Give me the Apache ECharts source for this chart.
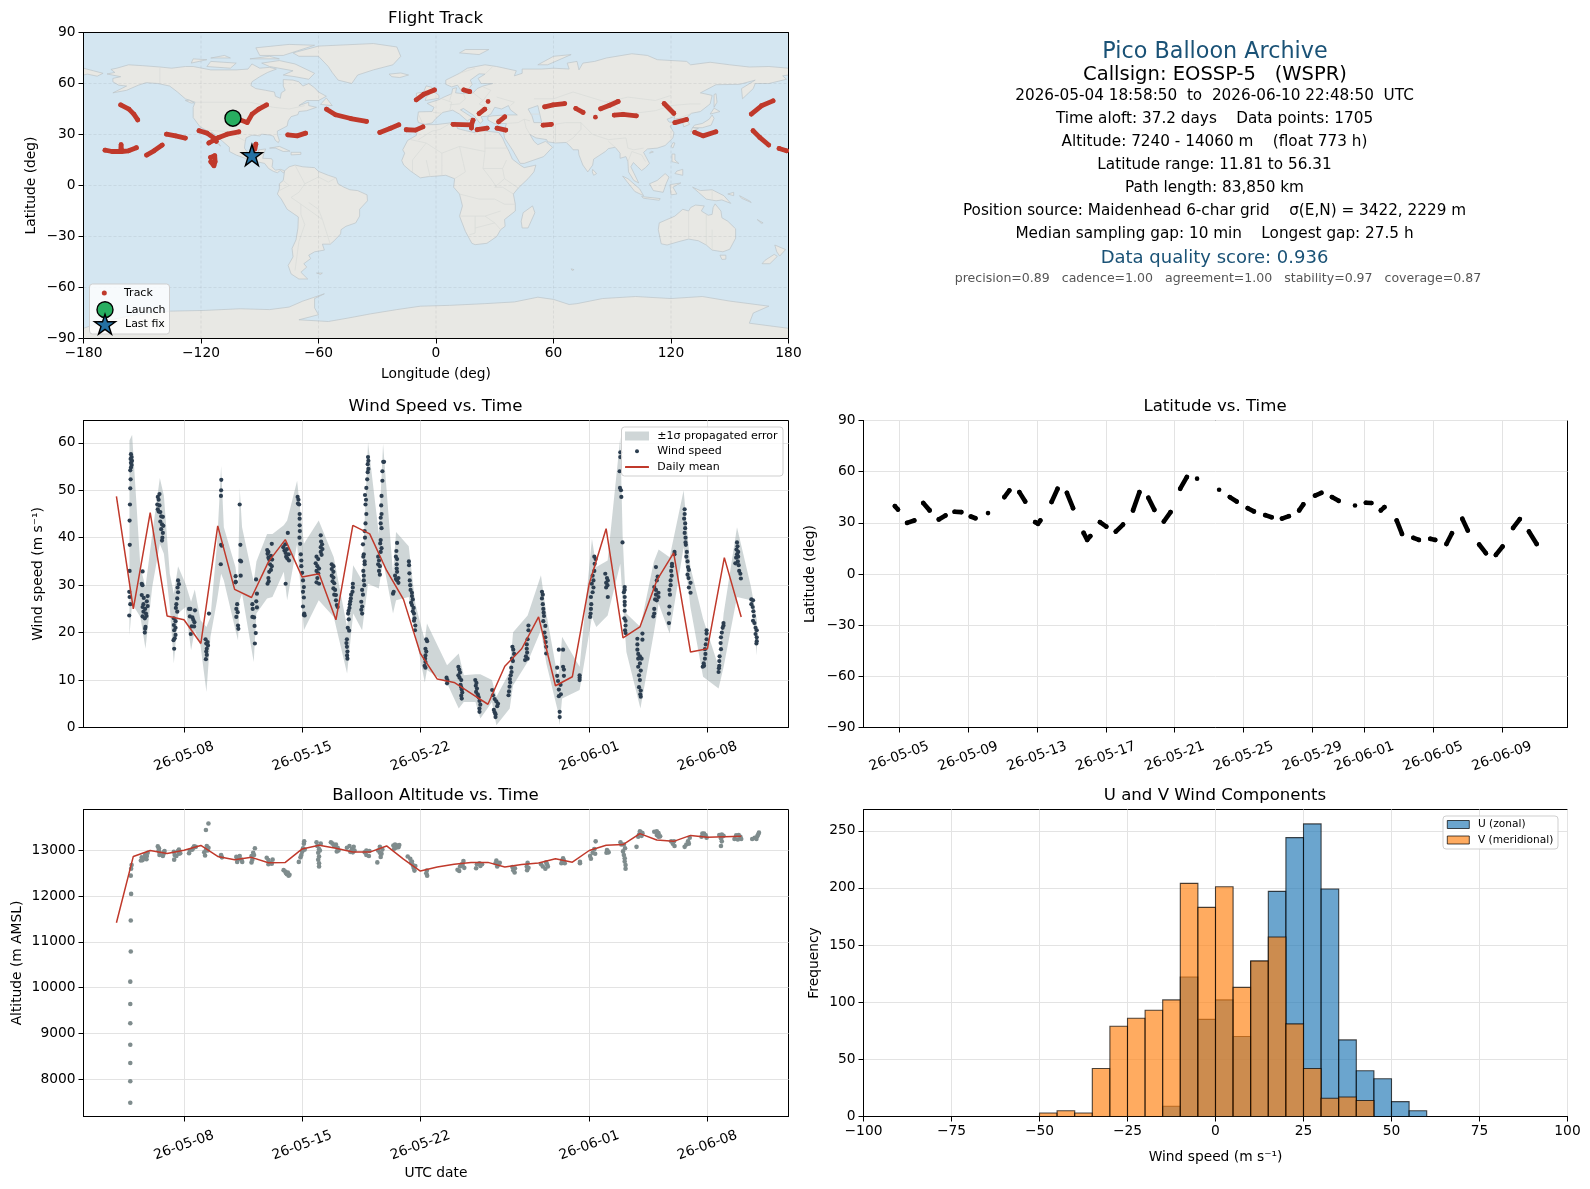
<!DOCTYPE html>
<html><head><meta charset="utf-8"><style>html,body{margin:0;padding:0;background:#fff}#c{width:1590px;height:1189px}</style>
<script src="https://cdn.jsdelivr.net/npm/echarts@6/dist/echarts.min.js"></script></head><body><div id="c"></div>
<script>
const infoLines = [
 ['Pico Balloon Archive',22.3,'#1a5276',52.5,1215],['Callsign: EOSSP-5   (WSPR)',19.55,'#000',75,1215],
 ['2026-05-04 18:58:50  to  2026-06-10 22:48:50  UTC',15.25,'#000',96,1214.5],
 ['Time aloft: 37.2 days    Data points: 1705',15.25,'#000',119,1214.5],
 ['Altitude: 7240 - 14060 m    (float 773 h)',15.25,'#000',142,1214.5],
 ['Latitude range: 11.81 to 56.31',15.25,'#000',165,1214.5],
 ['Path length: 83,850 km',15.25,'#000',188,1214.5],
 ['Position source: Maidenhead 6-char grid    σ(E,N) = 3422, 2229 m',15.25,'#000',211,1214.5],
 ['Median sampling gap: 10 min    Longest gap: 27.5 h',15.25,'#000',234,1214.5],
 ['Data quality score: 0.936',18,'#1a5276',258,1214.5],
 ['precision=0.89   cadence=1.00   agreement=1.00   stability=0.97   coverage=0.87',12.55,'#555',278.5,1218]
];
const landPolygons = [
 [[-168,65.6],[-164,66.5],[-166,68.3],[-163,69],[-157,71],[-150,70.5],[-141,69.7],[-135,69],[-128,70],[-124,70],[-115,68],[-108,68],[-102,68],[-96,68.5],[-94,71.5],[-90,69],[-85,69.5],[-81.5,68.5],[-86,66.5],[-90,64],[-94,61],[-94.5,58.8],[-92,57],[-87,56],[-82.5,55],[-82,52.5],[-79.5,51.3],[-79,54.5],[-77,56],[-78,58.5],[-78,62.3],[-73,62],[-70,61],[-68,58.5],[-65,60],[-62,57.5],[-60,55],[-56,52.5],[-60,50],[-66,50],[-70,47],[-65,49],[-65,47],[-61,46],[-66,44],[-70,43.5],[-70.5,41.7],[-74,40.5],[-75.5,38],[-76,35],[-78,33.8],[-81,32],[-81,30],[-80,26.5],[-80.5,25.2],[-82,26.5],[-83,29],[-85,29.7],[-89,30.2],[-90,29.2],[-94,29.6],[-97,28],[-97.5,25],[-97.8,22],[-96,19],[-94,18.2],[-91,18.6],[-90.5,21],[-87,21.5],[-88,18.5],[-88.5,16],[-84,15.8],[-83.3,14.5],[-83.7,11],[-82,9],[-79.5,9.5],[-77.3,8.7],[-77.8,7.3],[-79.5,8.9],[-81,7.5],[-83,8.3],[-85.5,10],[-87.5,13],[-91.5,14],[-94.5,16.2],[-97,15.8],[-102,17.9],[-105.5,20],[-105.5,22.5],[-109,26],[-112.5,29.5],[-114.7,31.5],[-113,28],[-110,23.2],[-112,25],[-115,28.5],[-117.3,32.5],[-120.5,34.5],[-124,40],[-124,46],[-123,49],[-128,51],[-132,55],[-136,58.5],[-142,60],[-148,60.5],[-152,59],[-158,56],[-165,54.5],[-158,58.5],[-162,59],[-165,61],[-165,63],[-161,64]],
 [[-80,73.5],[-72,71.5],[-62,66],[-65,62.5],[-72,64],[-78,65],[-73,67.5],[-85,70],[-89,72]],
 [[-117,70],[-105,69],[-102,72],[-115,73]],
 [[-90,76.5],[-78,76.5],[-62,82.5],[-75,83],[-92,81]],
 [[-125,72],[-117,74],[-124,74.5]],
 [[-95,74.5],[-80,74.5],[-85,76]],
 [[-115,75],[-105,75],[-108,76.5]],
 [[-59,47.7],[-53,47],[-56,51.5]],
 [[-85,22],[-80,23],[-74.5,20.2],[-78,20],[-82,22]],
 [[-74,19.5],[-69,19.5],[-69,18.3],[-74,18]],
 [[-128,50],[-125,48.5],[-123.5,48.6],[-126,50.2]],
 [[-73,78],[-60,82],[-32,83.5],[-20,81.5],[-18,76],[-22,71],[-32,68],[-40,65],[-43,60],[-50,62],[-53,66.5],[-55,70],[-60,76],[-70,76]],
 [[-24,65.5],[-18,66.2],[-14,65],[-18.5,63.5],[-22.5,64]],
 [[-77.3,8.7],[-75,11],[-72,12],[-68,11],[-62,10.5],[-60,8.3],[-55,6],[-51,4.5],[-50,1],[-47,-1],[-44,-2.5],[-40,-3],[-35.2,-5.5],[-35,-9],[-39,-14],[-39,-18],[-41,-22],[-46,-24],[-48.5,-26],[-48.7,-28.5],[-52,-32.5],[-54,-34.5],[-58,-34.5],[-57,-38],[-62,-39],[-65,-41],[-64,-43],[-67.5,-46],[-66,-48],[-69,-51],[-65.5,-55],[-70,-55],[-74,-52],[-75.5,-47],[-73,-42],[-73.5,-37],[-71.5,-32],[-70.5,-25],[-70.3,-18.5],[-76,-14],[-79,-8],[-81,-5],[-80,-2],[-80,1],[-78,3],[-77.5,7]],
 [[-6,35.8],[0,35.8],[10,37.2],[11,33.5],[15,32.3],[20,31],[20,33],[25,32],[32,31.2],[34,28],[35.5,24],[37.3,20],[39,15.5],[43,12],[45,10.5],[51,12],[50,8],[47,4],[42,-1.5],[39.5,-5],[40.5,-11],[40.5,-15],[35,-20],[35.3,-24],[33,-26],[31,-30],[26,-34],[20,-34.8],[18.3,-34],[15,-27],[12,-18],[13.5,-12],[12,-5],[9,-1],[9.5,4],[5,6],[0,5.5],[-4,5.2],[-8,4.5],[-13,8.5],[-16.5,12],[-17.5,14.7],[-16,19],[-17,21],[-14.5,26.5],[-10,29.5],[-9.5,33]],
 [[49.3,-12],[50.5,-16],[47,-25],[44,-25],[43.5,-21],[44.5,-16]],
 [[-9,37],[-9.5,39],[-9,43.3],[-2,43.5],[-1,46],[-4.5,48.3],[1.5,50.5],[4,52],[8,54],[8.5,57],[10.5,57.5],[10,54.5],[14,54],[19,54.5],[21,57],[24,58.5],[29,60],[23,60],[21.5,63],[25,65.5],[22,65.7],[17.5,62],[18.5,59.5],[16.5,56.5],[13,55.5],[11,59],[8,58],[5,59.5],[5,62],[12,66],[16,69],[25,71],[31,70],[41,67.5],[40,64.5],[44,66],[44,68.5],[54,68.5],[60,69],[68,68.5],[67,72],[72,73],[73,68],[75,72],[81,73],[87,75],[100,77.5],[108,76.5],[113,74],[128,73],[130,71],[140,72.5],[150,71],[160,69.7],[170,70],[180,69],[180,65],[177,64.5],[179,62.5],[170,60],[163,60],[162,57],[156.5,51],[156,57],[163,62],[155,59.5],[143,59.3],[135,54.5],[141,53],[140,48],[135,43.5],[130.5,42.5],[127.5,39.5],[129.5,36],[126.5,34.5],[126,37],[125,39.7],[121.5,39],[122,40.7],[118,39],[119,37.3],[122.5,37],[119.5,35],[121.5,31],[121,28],[117,23.5],[113,22],[108,21.5],[106,19.5],[109,13],[107,10.5],[105,8.8],[103,11],[100.8,13.5],[99.5,11],[103.5,1.5],[101,3],[98.3,8],[98,14],[97,17],[94,16],[94,19],[91.5,22.5],[88,21.7],[86.5,20],[80.5,15.5],[80,12],[77.5,8],[75,12],[73,18],[72.7,21],[70,21],[69,22.5],[66.5,25.3],[61,25],[57,25.7],[56.5,27],[51,28],[48,30],[50,26],[52,24],[56,26],[59.5,22.5],[55,17],[45,13],[43,13],[39,21],[35,28],[34.5,31.5],[36,36.5],[30,36.3],[26.5,38.5],[26.5,40.5],[29,41],[36,41.5],[41.5,41.5],[38,44.5],[37,47],[33.5,45],[30,46],[28,42],[26,40.7],[23,40.5],[24,38],[22.5,36.5],[19.5,41],[14,45.3],[12.5,44.5],[18.5,40],[16,38],[12,42],[8.5,44.3],[3.5,43],[0,39.5],[-2,36.8],[-5.5,36]],
 [[-5.5,50],[1.5,51.3],[1.5,53],[-2,56],[-2,57.7],[-5,58.6],[-6,56],[-3,54],[-5,52]],
 [[-10,52],[-6,52.2],[-6,55],[-10,54.3]],
 [[52,71],[57,71],[69,77],[60,76]],[[12,78],[22,77],[27,80],[15,80]],
 [[142,46],[143.5,49],[143,54],[142,53.5],[142,48]],[[140,42],[145,43.5],[142,45.5]],
 [[131,34],[136,34],[140.5,35.5],[142,39.5],[141,41.5],[139.5,39],[136,36.5],[132,35.5]],
 [[130,31.5],[134,33.5],[131,34]],[[120,23],[121,22],[122,25],[121,25.2]],[[109,19],[111,19.7],[110,20.2]],
 [[120.5,18.5],[122,18.5],[122,15],[124,13],[120.5,14]],[[122,7],[126,6],[126,9.5],[123,8.5]],
 [[109,1],[113,3],[117,7],[119,5],[117.5,1],[116,-4],[111,-3]],[[95.3,5.5],[98,4],[104,-2],[106,-6],[101.5,-3.5]],
 [[105,-6.5],[114.5,-7.7],[114,-8.7],[106,-7.5]],[[119.5,0.5],[125,1.5],[121,-1],[123,-5],[120,-5.5]],
 [[131,-1],[135,-3],[141,-2.5],[147,-6],[150.5,-10.5],[146,-8.5],[143,-9],[138,-8],[134,-4]],
 [[80,9.5],[82,7],[80.5,6],[79.8,8]],
 [[114,-22],[113.5,-26],[115,-34.3],[118,-35],[124,-33],[129,-31.5],[134,-32.5],[138,-35],[141,-38],[146.5,-39],[150,-37.5],[153,-31],[153,-25.5],[149,-21],[146,-19],[145.5,-15],[142.5,-10.8],[141.5,-13],[141,-17],[139,-17.5],[135.5,-15],[137,-12],[132.5,-11.5],[130,-13],[129,-15],[126,-14],[122,-18],[117,-20.5]],
 [[145,-41],[148,-41],[148,-43.3],[146,-43.5]],[[173,-35],[178.5,-37.7],[175.5,-41.5],[174,-39]],[[172.7,-40.5],[174.3,-41.7],[170.5,-46],[166.5,-46],[168,-44]],
 [[164,-20],[167,-22],[166,-22.2]],[[155,-6],[160,-9],[161,-10],[156,-7.5]],[[149,-5],[152,-4],[152,-6]],[[69,-49],[70.5,-49.5],[69.5,-50]],[[-61,-51.5],[-58,-51.5],[-59,-52.3]],
 [[-180,65],[-180,69],[-175,67.5],[-170,66],[-173,64.3],[-178,65.5]],
 [[-180,-84],[-170,-80],[-158,-77],[-145,-75],[-135.6,-73.9],[-118.5,-73.5],[-100,-72.5],[-85,-73],[-75,-71.5],[-68,-68],[-57,-63.7],[-62,-66.5],[-62,-72],[-60,-76],[-70,-79],[-55,-80],[-45,-78],[-33.4,-75.5],[-20,-73],[-8,-71],[7,-70.5],[25,-69.5],[40,-68.5],[52,-65.7],[60,-67],[68,-70],[72,-69.5],[85,-66.5],[102,-65.3],[120,-66.5],[136,-65.3],[150,-68],[170,-71],[162,-75],[160,-81],[180,-84],[180,-90],[-180,-90]]
];
const seaPolygons = [[[47,45],[52,47],[53,42],[54,37],[50,37],[49,41]]];
const borderLines = [
 [[-123,49],[-95,49],[-83,46],[-75,45],[-67,47]],[[-141,69.7],[-141,60]],[[-117,32.5],[-106,31.7],[-97.3,26]],[[-92,14.5],[-91,18]],
 [[-72,12],[-67,1],[-70,-4],[-74,-7],[-69,-11],[-69,-17],[-67,-23],[-70,-33],[-72,-50]],[[-60,8.3],[-60,5],[-67,1]],[[-58,-20],[-69,-11]],[[-54,-34.5],[-58,-20],[-60,-14],[-65,-10]],[[-80,-3],[-75,0],[-78,3]],[[-51,4.5],[-55,2],[-60,5]],
 [[-9,42],[-7,37]],[[-1.5,43],[3,42.5]],[[3,51],[8,49],[7,44]],[[8,54],[7,50]],[[14,54],[15,51],[12,48],[7,47.5]],[[19,54.5],[24,50],[22,48],[28,45]],[[24,58],[28,56],[24,50]],[[31,52],[40,49],[38,47]],[[12,66],[20,69]],[[25,65.5],[29,70]],
 [[36,36.5],[42,37],[45,39],[48,38]],[[48,30],[46,34],[45,39]],[[61,25],[61,36],[66,37],[74,37]],[[48,42],[53,42]],[[50,51],[60,51],[70,55],[87,49]],[[87,49],[98,42],[112,44],[120,47],[130,48],[135,48]],[[87,49],[98,52],[112,50],[120,53]],[[74,37],[80,30],[88,27],[97,28],[98,22],[101,21],[106,22]],[[66.5,25.3],[70,28],[74,33],[74,37]],[[88,26],[92,22]],[[98,14],[100,20],[105,18],[107,14]],[[125,40],[130.5,42.5]],
 [[-9,27],[-2,32],[2,33],[8,37]],[[-13,27],[-5,25],[3,19],[12,23],[25,20]],[[25,32],[25,20],[24,10],[28,4],[31,-1]],[[25,22],[37,22]],[[12,23],[14,13],[15,8],[9.5,4]],[[3,19],[3,12],[3,6]],[[-5,25],[-12,15],[-12,8]],[[-5,15],[-3,5]],[[24,10],[34,10],[36,15]],[[34,10],[35,4],[42,-1.5]],[[35,4],[30,-1],[34,-1],[39.5,-5]],[[12,-5],[22,-8],[30,-8],[35,-11],[40.5,-11]],[[12,-18],[25,-18],[33,-15]],[[20,-18],[20,-28],[17,-29]],[[25,-18],[30,-22],[33,-26]],[[30,-22],[20,-25]],
 [[141,-2.5],[141,-9]],[[129,-15],[129,-31.5]],[[138,-17],[138,-35]],[[141,-26],[141,-38]]
];
const trackSegments = [
 [[-161,47.4],[-156.8,44.9],[-154.3,42],[-152.3,38.6]],
 [[-169,20.8],[-165.4,20],[-161,20],[-160.8,24],[-160.6,20],[-157,20.4],[-153,22.2]],
 [[-147.8,17.9],[-144,20.4],[-139.8,23.8]],
 [[-137.6,30.2],[-133,29.2],[-128,27.9]],
 [[-121,32.2],[-116.9,30.8],[-113.4,27.9],[-112.2,26]],
 [[-116,25],[-110.9,28.3],[-106.6,30.2],[-100.7,31.6]],
 [[-115.1,16.5],[-113,17.5],[-112.8,14],[-113.4,11.6],[-115,14]],
 [[-103.7,39.6],[-100,38.6],[-96.4,37],[-93.9,42],[-90.5,44.9],[-86.5,47.4]],
 [[-92,24.3],[-92.5,21.4]],
 [[-75.7,29.8],[-70.9,29.2],[-66.6,30.8]],
 [[-55.9,44.9],[-51.3,41.6],[-43.6,39.4],[-35.5,37.7]],
 [[-28.7,31.2],[-23.2,33.7],[-19,35.7]],
 [[-15.2,32.8],[-10.5,32.6],[-6.7,34.5]],
 [[-10.1,50.4],[-6.2,53.7],[-0.8,56.2]],
 [[14.2,56.2],[17.2,55.2]],
 [[26.6,49.4]],
 [[22,42.3],[24.9,44.9]],
 [[8.7,36],[18.1,35.7],[18.9,38.4]],[[18.1,35.7],[18.1,33.8]],
 [[21,32.8],[26.1,33.7]],
 [[31.2,33.7],[35.6,32.6]],
 [[32,37.5],[35.1,40.4]],
 [[55.5,46.3],[59.8,47.4],[65.7,48.2]],
 [[54.7,35.5],[58.9,36]],
 [[71.4,45.3],[75.1,43]],
 [[81.4,40.2]],
 [[84.1,45.1],[88.7,47.2],[93,49.4]],
 [[91,41.4],[95.5,41.8],[102.3,41]],
 [[116.5,48.2],[121.4,42.5]],
 [[122,37],[127.9,38.8]],
 [[132.1,31.2],[136.4,29.2],[142.9,31.6]],
 [[161,42],[166.2,46.9],[172.1,49.8]],
 [[161.9,32.2],[165.3,28.3],[169.9,23.8]],
 [[175.2,21.8],[179,20.4]]
];
const launchPoint = [[-103.7,39.6]];
const lastFixPoint = [[-94,17.9]];
const latitudeSegments = [
 [[4.75,39.8],[4.93,37.8]],[[5.46,30],[5.88,31.4]],[[6.4,41.6],[6.77,37.3]],[[7.3,32],[7.69,34.3]],[[8.22,36.5],[8.61,36.3]],[[9.16,33.7],[9.43,32.7]],[[10.16,35.7]],[[11.11,45.1],[11.4,49]],[[11.98,48],[12.32,42.5]],[[12.9,30.4],[13.06,29.4],[13.2,31.4]],[[13.85,42.2],[14.2,50]],[[14.74,47.6],[15.1,38.6]],[[15.71,24.1],[15.92,20],[16.1,22.2]],[[16.66,30.4],[17.03,27.8]],[[17.58,24.9],[18,29]],[[18.58,37.3],[18.95,48]],[[19.47,44.7],[19.82,37.6]],[[20.37,30.8],[20.76,36.3]],[[21.32,50],[21.71,56.9]],[[22.3,55.9]],[[23.58,49.4]],[[24.2,45.1],[24.6,42.5]],[[25.24,38.6],[25.6,36.7]],[[26.26,34.5],[26.63,33.3]],[[27.23,32.5],[27.63,33.9]],[[28.23,37.3],[28.47,40.8]],[[29.15,46],[29.52,47.6]],[[30.13,45.1],[30.52,42.9]],[[31.47,40.2]],[[32.1,41.8],[32.42,41.6]],[[32.97,37.3],[33.18,39.2]],[[33.89,31.4],[34.2,23.5]],[[34.86,21.2],[35.18,20]],[[35.84,20.6],[36.13,20]],[[36.78,17.6],[37.1,23.9]],[[37.7,32.4],[38.02,25.5]],[[38.68,17.3],[39.07,12.2]],[[39.65,11.2],[40.04,16.1]],[[40.65,27],[41.04,32.2]],[[41.57,24.9],[42.02,17.6]]
];
const windDailyDays = [4,5,6,7,8,9,10,11,12,13,14,15,16,17,18,19,20,21,22,23,24,25,26,27,28,29,30,31,32,33,34,35,36,37,38,39,40,41];
const windDailyMean = [48.7,25,45.3,23.5,22.7,17.7,42.5,29.1,27.4,34.9,39.6,31.7,32.4,22.7,42.6,40.8,33.1,27,15.6,10.2,9.5,7.2,4.9,12.9,16.6,23.3,8.8,10.7,30.3,41.9,18.9,21.2,31,36.8,15.9,16.6,35.8,23.3];
const altDailyMean = [11420,12870,13000,12935,13005,13110,12870,12800,12850,12730,12740,13035,13115,13050,12965,12965,13100,12810,12550,12640,12700,12740,12740,12640,12695,12725,12820,12745,13000,13115,13130,13370,13230,13200,13330,13290,13300,13310];
const bandDays = [4.77,4.93,5.42,5.72,6.12,6.57,6.81,7.16,7.4,7.65,8.09,8.42,8.64,8.98,9.33,9.57,9.96,10.2,10.36,11.05,11.2,11.3,11.44,12.13,12.29,12.92,13.24,13.91,14.11,14.7,15.1,15.98,16.87,17.66,18.02,18.55,18.9,19.54,19.79,20.38,20.56,21.31,21.7,22.26,22.39,23.58,24.27,24.57,25.26,25.55,26.24,26.5,27.29,27.49,28.35,29.14,29.46,30.13,30.25,30.39,31.43,32.16,32.42,33.09,33.84,33.98,34.2,35.03,35.82,36.11,36.76,37.59,37.99,38.74,39.66,39.96,40.75,41.58,41.93];
const bandHigh = [60.5,61.7,33.8,29.6,40.8,52.6,48.9,32.4,28.2,34,30.3,26.5,29.1,22.6,21.2,23.3,38.7,55.1,42.2,33.8,29.6,50.5,42.2,30.7,35,40.8,40.8,42.6,43.6,52,38.7,43.6,35.9,21.2,34.2,31,60.1,40.8,59.8,32.4,41.2,38.2,26.1,18.4,21.9,13.1,15.6,11,11.2,11.2,10,6.5,11.7,20.1,23.6,32.1,24,10.7,12.8,19.1,12.8,39.8,33.8,35.2,61.2,40.1,24,21.2,34.9,37.5,35.9,50,33.8,22.9,12.8,24,42.2,29.6,22.6];
const bandLow = [19.4,26.1,23.3,16.6,29.6,38.7,36.6,25.4,13.5,24,25.4,16.3,20.5,17.3,7.5,19.1,26.8,32.4,31,20.5,18.4,26.8,28.2,13.8,24,27.2,27.5,32.8,26.8,38.7,20.5,26.8,23.3,11.4,24,20.5,30.3,29.3,35.2,24,26.8,27.5,19.8,9.5,12.1,9.3,4,5.4,5.4,1.9,5.4,0.5,4,8.9,13.8,20.5,13.5,3.6,0.5,6.1,7.9,23.3,21.2,23.6,34.5,26.8,15.9,4,19.8,26.1,19.8,38,25.4,10.7,8.2,12.8,27.5,26.8,15.2];
const windPoints = [
 [4.86,57.6],[4.9,57],[4.84,56.6],[4.92,56.2],[4.86,55.8],[4.9,55.3],[4.86,54.8],[4.82,54.2],[4.84,52.3],[4.82,50.4],[4.8,47],[4.78,43.6],[4.79,38.5],[4.78,33],[4.76,28.6],[4.78,27.5],[4.82,26],[4.76,23.6],
 [5.55,32.9],[5.5,30.3],[5.54,30],[5.5,27.9],[5.62,27.3],[5.85,27.7],[5.6,26],[5.8,26.6],[5.55,25.4],[5.7,25],[5.85,25.6],[5.6,24.4],[5.75,24],[5.55,23.4],[5.68,23],[5.78,23.5],[5.7,20.8],[5.68,20],[5.72,21.2],
 [6.45,48.6],[6.55,49.2],[6.5,48],[6.42,47],[6.55,46.8],[6.5,45.5],[6.45,46],[6.6,45.4],[6.65,44.5],[6.75,44.4],[6.6,43.4],[6.7,42.8],[6.78,42.5],[6.65,41.8],[6.75,41],[6.72,40],[6.7,39.4],
 [7.65,31],[7.7,30.2],[7.62,29.5],[7.65,28.5],[7.6,27.2],[7.55,26],[7.52,25.2],[7.6,24.4],[7.4,23],[7.5,22.4],[7.4,21.6],[7.5,21],[7.42,20.5],[7.5,19.5],[7.45,18.8],[7.38,18.4],[7.42,16.6],
 [8.3,25],[8.38,25],[8.35,23.4],[8.5,23.2],[8.65,24.7],[8.55,22.7],[8.62,22.2],[8.45,21.3],[8.6,21.3],[8.4,19.7],
 [9.28,18.6],[9.4,18],[9.32,17.7],[9.42,17.3],[9.35,16.6],[9.32,16],[9.35,15.3],[9.3,14.4],[9.48,24],
 [10.21,52.2],[10.2,50],[10.19,48.8],[10.2,38.5],[10.24,38.3],[10.18,34.4],
 [11.06,31.9],[11.07,30.7],[11.05,30.6],[11.15,26],[11.1,25],[11.18,24.3],[11.1,23.3],[11.2,21.5],[11.22,20.8],[11.3,47],[11.34,38.5],[11.32,35.2],[11.38,35],[11.36,32],
 [12.05,26],[12.07,25],[12.05,23.3],[12.15,23.2],[12.18,21.4],[12.25,19.9],[12.2,17.7],[12.27,31.2],[12.32,28.2],[12.28,26.6],[12.32,25.3],
 [12.93,37.4],[13,37],[12.95,36.6],[13,35.8],[13.05,35.4],[13.2,38.7],[13.15,36.2],[13.22,35.4],[13.1,34.4],[13.2,34],[13.15,33.2],[13.05,32.8],[13,31.5],[13.02,30.8],[12.95,30.3],
 [13.88,38],[13.95,37.3],[14.02,36.8],[14.1,37.6],[14.05,36],[14.2,36.5],[14.12,35.6],[14.22,35.2],[14.15,41],[14.02,30.3],[14,38.6],
 [14.73,48.6],[14.78,48],[14.75,47.2],[14.82,47],[14.85,45],[14.85,44],[14.85,42.6],[14.86,41.4],[14.84,40],[14.88,38.7],[14.92,36.5],[14.95,35.2],[14.95,34],[15,32.6],[15.05,31],[15.1,29.6],[15.05,28.6],[15.1,27.4],[15.05,25.5],[15.12,24],[15.1,23.7],[15.15,23.6],
 [15.85,36],[15.95,35.5],[15.8,34.6],[15.9,34],[16,33.5],[15.85,33],[15.95,32.5],[15.9,31.5],[15.85,30.6],[16,30.3],[16.1,40.5],[16.12,39.2],[16.18,38.6],[16.1,38],[16.2,37.6],[16.1,37],[16.15,36.4],
 [16.75,34.4],[16.85,34],[16.75,33.4],[16.85,32.8],[16.75,32],[16.85,31.6],[16.8,30.8],[16.9,30.4],[16.85,29.3],[16.95,29],[16.9,28],[17,27.9],[17,26.8],[17.05,25.8],[17.1,25.4],
 [18,30.3],[18,29.5],[17.98,28.6],[17.9,28],[17.88,27.2],[17.85,26.6],[17.82,26],[17.8,25.2],[17.75,24.6],[17.72,24],[17.76,22.8],[17.7,21],[17.78,20.4],[17.65,18.6],[17.62,17.8],[17.65,17],[17.68,16],[17.66,15.2],[17.68,14.5],
 [18.55,29],[18.6,28],[18.5,26.5],[18.55,25.5],[18.5,24.8],[18.55,24],[18.62,33],[18.65,32],[18.65,31],[18.68,30],[18.6,38.6],[18.65,36.5],[18.62,36],[18.7,35],[18.7,34.4],[18.72,40],[18.7,41.4],[18.75,43],[18.8,45],[18.75,47],[18.78,48],[18.72,49],[18.8,50.5],[18.85,52.3],[18.88,53.8],[18.92,54.5],[18.88,55.5],[18.92,56.2],[18.9,57],
 [19.5,36],[19.55,35.2],[19.5,34.4],[19.6,34],[19.55,33],[19.6,32.2],[19.65,37],[19.7,37.8],[19.62,38.8],[19.65,39.5],[19.7,42],[19.65,43],[19.65,44.2],[19.7,45],[19.68,46.8],[19.7,48.8],[19.75,52],[19.75,54],[19.8,56],[19.85,56],
 [20.38,28.2],[20.42,28.6],[20.5,32],[20.55,31.3],[20.6,33.5],[20.62,32.8],[20.7,31.5],[20.62,31],[20.7,30.5],[20.55,36],[20.62,35.5],[20.6,34.4],[20.58,37.2],[20.62,38.9],
 [21.32,35],[21.33,34.2],[21.35,32.5],[21.37,31],[21.4,30],[21.42,29],[21.5,28.4],[21.5,27.7],[21.55,27],[21.45,26.3],[21.5,25.8],[21.6,25.2],[21.55,24.5],[21.62,24],[21.65,23],[21.62,22.5],[21.7,21.5],[21.68,20.5],
 [22.35,18.6],[22.4,18.2],[22.3,16.6],[22.35,16],[22.3,15.2],[22.28,14.5],[22.3,13.8],[22.25,13],[22.3,12.6],
 [23.55,10.5],[23.6,10],[23.58,9.3],
 [24.25,12.8],[24.3,12.2],[24.35,11.6],[24.25,11],[24.32,10.5],[24.42,10],[24.38,9],[24.42,8.5],[24.45,8],[24.48,7.4],[24.42,6.7],[24.45,6.1],
 [25.25,10],[25.32,9.4],[25.28,8.8],[25.35,8.2],[25.3,7.5],[25.4,7],[25.45,6.4],[25.5,5.6],[25.55,4.8],[25.5,4],[25.5,3.3],
 [26.25,7.9],[26.3,6.8],[26.4,6],[26.5,5.5],[26.6,5],[26.55,4.5],[26.35,3.7],[26.4,3.2],[26.45,2.8],[26.45,2.2],
 [27.45,17],[27.5,16.4],[27.55,15.5],[27.42,14.5],[27.48,14],[27.38,12.6],[27.4,11.7],[27.35,11],[27.3,10.2],[27.32,9.5],[27.28,8.6],[27.25,7.6],[27.22,6.8],
 [28.4,21.5],[28.4,20.5],[28.35,18.6],[28.3,17.5],[28.3,16.6],[28.32,15.8],[28.25,15],[28.35,14.5],[28.2,14.2],
 [29.2,28.6],[29.25,28],[29.2,27.2],[29.25,26],[29.28,25],[29.3,24.2],[29.32,23.5],[29.28,22.4],[29.4,21.4],[29.35,20],[29.4,19],[29.42,18],[29.45,17],[29.45,15.6],
 [30.2,16.4],[30.45,16.4],[30.1,12.6],[30.45,12.8],[30.5,12.2],[30.1,10.9],[30.5,10.9],[30.15,9.8],[30.3,9],[30.2,8],[30.32,7],[30.2,6.6],[30.25,3.3],[30.25,2.2],
 [31.43,11],[31.43,10.5],[31.43,10],
 [32.3,36],[32.38,35.5],[32.32,34.5],[32.3,33],[32.2,32],[32.25,31],[32.15,30.3],[32.25,29.5],[32.2,28.5],[32.1,27.5],[32.12,26],[32.1,25],[32.08,24],[32.05,23.3],
 [32.95,32.4],[33.05,31.5],[33.1,31],[33,30.5],[33.08,30],[33,29.5],[33.1,27.5],
 [33.84,58],[33.84,57],[33.8,54],[33.82,50.5],[33.88,50],[33.9,48.6],[33.97,39],
 [34.1,29.6],[34.1,29],[34.05,28.5],[34.1,27.5],[34.1,26.5],[34.1,25.8],[34.1,24.6],[34.08,23],[34.15,22.5],[34.15,21.5],[34.12,20.5],[34.15,19.9],
 [34.85,18.7],[35.15,19.8],[35.15,18.5],[34.85,17.5],[34.85,16.4],[34.9,15.5],[35,15],[34.9,14.5],[35.1,14.5],[35,13.5],[34.9,12.8],[35.05,12],[34.95,11],[35,10],[34.95,8.5],[35.05,7.8],[35.02,7],[35.05,6.5],
 [35.95,33.8],[36.05,31.8],[36,31],[35.85,29.6],[35.95,29],[36.1,28.4],[35.95,28],[36.1,27.5],[35.9,27],[36,26.8],[35.85,25],[35.85,24],[35.8,23.4],
 [36.9,34.5],[36.9,34],[36.85,33],[36.88,32],[36.82,31],[36.82,30],[36.75,29],[36.78,28],[36.75,25.5],[36.72,24],[36.72,22],[37.05,36.5],[37.05,37],
 [37.65,46],[37.65,45],[37.62,44],[37.68,43],[37.68,42],[37.65,41],[37.7,40],[37.7,39],[37.72,38.5],[37.78,37],[37.75,36],[37.82,35],[37.85,33.8],[37.9,33.2],[37.82,32.2],[37.88,31.5],[38,30.5],[37.9,29.5],[38,28.4],
 [38.95,20.5],[38.95,19.8],[38.95,18.6],[38.9,17.5],[38.85,16.5],[38.88,15.5],[38.85,14.5],[38.78,13.5],[38.8,13],[38.72,12.8],
 [39.95,22],[39.95,21.5],[39.9,21],[39.85,20],[39.8,19],[39.78,17.8],[39.8,16.5],[39.72,15],[39.7,14],[39.7,13],[39.68,12.5],[39.66,11.7],
 [40.75,39],[40.78,38.2],[40.72,37.5],[40.82,37],[40.75,36.5],[40.82,36],[40.7,35.8],[40.8,35],[40.65,34.6],[40.85,34.2],[40.88,33],[40.95,32.4],[40.98,31.4],
 [41.6,27],[41.7,26.8],[41.6,26],[41.68,25.4],[41.72,24.5],[41.75,23.5],[41.7,22.5],[41.78,22],[41.85,21],[41.92,20.5],[41.85,19.7],[41.92,19],[41.92,18.2],[41.9,17.7]
];
const altPoints = [
 [4.82,7480],[4.82,7950],[4.82,8350],[4.82,8750],[4.82,9220],[4.82,9640],[4.82,10130],[4.85,10790],[4.85,11470],[4.87,12050],[4.85,12450],[4.87,12600],[4.9,12680],
 [5.45,12780],[5.55,12790],[5.5,12850],[5.65,12830],[5.7,12900],[5.8,12880],[5.85,12950],[5.78,12810],
 [6.45,13090],[6.5,13000],[6.55,12960],[6.52,13050],[6.55,12900],[6.75,12880],[6.8,12960],[6.78,12920],[6.85,12990],
 [7.4,12970],[7.45,12900],[7.42,12800],[7.55,12880],[7.65,12990],[7.7,13020],[7.7,12930],[7.78,12940],
 [8.3,12940],[8.35,13000],[8.5,13020],[8.6,13090],[8.55,13060],[8.7,13080],
 [9.2,12960],[9.25,12890],[9.3,13010],[9.4,13000],[9.35,13100],[9.3,13450],[9.45,13590],[9.45,13060],
 [10.2,12900],[10.25,12850],[10.18,12880],
 [11.1,12860],[11.2,12810],[11.3,12880],[11.15,12750],[11.4,12800],[11.45,12750],
 [12.0,12880],[12.1,12950],[12.2,13050],[12.15,12900],[12.05,12800],[12.0,12740],
 [12.9,12840],[13,12790],[13.1,12730],[13.2,12710],[13.25,12800],[13.0,12700],
 [13.9,12570],[14,12540],[14.05,12500],[14.1,12480],[14.2,12450],[14.25,12470],[14.15,12520],
 [14.8,12750],[14.9,12850],[15,12970],[15.05,13050],[15.1,13150],[15.12,13200],[14.95,12900],[15.15,13020],
 [15.85,13180],[15.9,13100],[16,13030],[15.95,12950],[16,12870],[15.95,12800],[16,12720],[16,12650],[16.1,13150],[16.05,13000],
 [16.7,13180],[16.8,13150],[16.9,13100],[17,13130],[17.1,13060],[17.15,13000],[17.05,12980],
 [17.65,13060],[17.8,13100],[17.95,13030],[18,12960],[18.05,13080],[18.1,13000],[17.85,12970],
 [18.7,12960],[18.8,12900],[18.95,12880],[18.8,13000],[18.98,12990],
 [19.5,13000],[19.6,12950],[19.45,12740],[19.65,12860],[19.75,13020],[19.7,12930],[19.6,13080],
 [20.4,13110],[20.5,13130],[20.65,13110],[20.7,13070],[20.55,13060],[20.75,13120],[20.45,13040],
 [21.25,12870],[21.4,12820],[21.5,12760],[21.55,12680],[21.6,12620],[21.65,12560],[21.45,12730],[21.7,12660],
 [22.35,12500],[22.4,12450],[22.38,12560],
 [24.2,12580],[24.3,12550],[24.35,12650],[24.45,12700],[24.55,12770],[24.5,12680],[24.6,12620],
 [25.3,12610],[25.35,12700],[25.5,12720],[25.55,12660],[25.65,12700],
 [26.5,12780],[26.6,12690],[26.55,12650],[26.45,12720],[26.7,12730],
 [27.45,12640],[27.5,12570],[27.6,12610],[27.58,12520],
 [28.3,12650],[28.32,12570],[28.35,12730],[28.4,12620],
 [29.15,12700],[29.25,12650],[29.4,12600],[29.5,12700],[29.45,12740],[29.55,12650],
 [30.35,12720],[30.4,12780],[30.45,12830],[30.5,12780],[30.55,12720],
 [31.45,12750],[31.45,12720],
 [32.05,12880],[32.1,12820],[32.2,12950],[32.3,13030],[32.35,12930],[32.38,13200],
 [33.05,13010],[33.1,12980],[33.15,12960],[33.02,12950],
 [33.85,13180],[33.9,13130],[34,12980],[34.05,12900],[34.1,12830],[34.1,12760],[34.15,12680],[34.15,12600],[34.12,13050],[34.05,13130],
 [34.8,13080],[34.95,13350],[35,13420],[35.05,13400],[35.1,13320],[35.15,13380],[34.9,13300],
 [35.85,13410],[36,13420],[36,13340],[36.1,13300],[36.1,13380],[36.2,13310],
 [36.85,13200],[36.95,13150],[37.05,13100],[37.02,13200],
 [37.65,13080],[37.75,13130],[37.85,13200],[37.95,13280],[37.9,13150],
 [38.7,13370],[38.8,13370],[38.9,13330],[38.95,13280],[38.65,13300],
 [39.7,13340],[39.85,13350],[39.85,13200],[39.8,13100],[39.8,13270],[39.95,13320],
 [40.6,13250],[40.7,13330],[40.85,13340],[40.95,13300],[40.8,13240],[41,13250],
 [41.65,13250],[41.8,13280],[41.95,13310],[42,13350],[42.05,13390],[41.9,13250]
];
const binWidth = 5;
const histBinStarts = [-50,-45,-40,-35,-30,-25,-20,-15,-10,-5,0,5,10,15,20,25,30,35,40,45,50,55];
const uCounts = [0,0,0,0,0,0,0,9,122,85,102,70,136,197,244,256,199,67,40,33,13,5];
const vCounts = [3,5,3,42,79,86,93,102,204,183,201,113,136,157,81,42,16,17,14,0,0,0];
const windTickLabels = ['26-05-08','26-05-15','26-05-22','26-06-01','26-06-08'];
const latTickLabels = ['26-05-05','26-05-09','26-05-13','26-05-17','26-05-21','26-05-25','26-05-29','26-06-01','26-06-05','26-06-09'];
const lonTicks = [-180,-120,-60,0,60,120,180];
const latTicks = [-90,-60,-30,0,30,60,90];
const windTicks = [0,10,20,30,40,50,60];
const altTicks = [8000,9000,10000,11000,12000,13000];
const histXTicks = [-100,-75,-50,-25,0,25,50,75,100];
const histYTicks = [0,50,100,150,200,250];

const FF='"DejaVu Sans"', TICK=13.8, NAME=13.8, TITLE=16.6, GRIDC='#e3e3e3';
const RED='#c0392b', STAR='path://M50 0L61.2 34.5L97.6 34.5L68.2 55.9L79.4 90.5L50 69.1L20.6 90.5L31.8 55.9L2.4 34.5L38.8 34.5Z';
const grids=[
 {left:83.5,top:32.5,width:705,height:306,show:true,backgroundColor:'#d4e6f1',borderColor:'#000',borderWidth:1},
 {left:83.5,top:420.5,width:705,height:307,show:true,backgroundColor:'#fff',borderColor:'#000',borderWidth:1},
 {left:863.5,top:420.5,width:704,height:307,show:true,backgroundColor:'#fff',borderColor:'#000',borderWidth:1},
 {left:83.5,top:809.5,width:705,height:307,show:true,backgroundColor:'#fff',borderColor:'#000',borderWidth:1},
 {left:863.5,top:809.5,width:704,height:307,show:true,backgroundColor:'#fff',borderColor:'#000',borderWidth:1}
];
const minus=v=>String(v).replace('-','\u2212');
function valAxis(g,min,max,ticks,name,gap,isX,extra){
 return Object.assign({type:'value',gridIndex:g,min,max,name,nameLocation:'middle',nameGap:gap,
  nameTextStyle:{fontFamily:FF,fontSize:NAME,color:'#000'},
  axisLine:{show:true,onZero:false,lineStyle:{color:'#000',width:1}},
  axisTick:{show:true,length:5,customValues:ticks,lineStyle:{color:'#000',width:1}},
  axisLabel:{show:true,customValues:ticks,fontFamily:FF,fontSize:TICK,color:'#000',margin:8,formatter:minus},
  splitLine:{show:true,lineStyle:{color:GRIDC,width:1}}},extra||{});
}
const dayOf=s=>{const p=s.split('-');return p[1]==='05'?+p[2]:31+ +p[2];};
function timeAxis(g,min,max,labels,name,gap){
 const t=labels.map(dayOf);
 const ax=valAxis(g,min,max,t,name,gap,true);
 ax.axisLabel.rotate=20;ax.axisLabel.align='center';ax.axisLabel.verticalAlign='middle';ax.axisLabel.margin=29;
 ax.axisLabel.formatter=v=>labels[t.indexOf(v)];
 return ax;
}
function flat(segs){const r=[];segs.forEach(s=>{s.forEach(p=>r.push(p));r.push([NaN,NaN]);});return r;}
const xAxes=[
 valAxis(0,-180,180,lonTicks,'Longitude (deg)',29,true,{splitLine:{show:false}}),
 timeAxis(1,2.05,43.8,windTickLabels,'',20),
 timeAxis(2,2.93,43.81,latTickLabels,'',20),
 timeAxis(3,2.05,43.8,windTickLabels,'UTC date',50),
 valAxis(4,-100,100,histXTicks,'Wind speed (m s\u207B\u00B9)',33.5,true)
];
const yAxes=[
 valAxis(0,-90,90,latTicks,'Latitude (deg)',45.5,false,{splitLine:{show:false}}),
 valAxis(1,0,64.7,windTicks,'Wind speed (m s\u207B\u00B9)',38.5),
 valAxis(2,-90,90,latTicks,'Latitude (deg)',46.5),
 valAxis(3,7180,13897,altTicks,'Altitude (m AMSL)',59.5),
 valAxis(4,0,268.6,histYTicks,'Frequency',42.5)
];
function mapRender(params,api){
 const pts=c=>c.map(p=>api.coord(p));
 const children=[];
 landPolygons.forEach(poly=>children.push({type:'polygon',shape:{points:pts(poly)},style:{fill:'#e8e8e4',stroke:'#bcc4c8',lineWidth:0.7}}));
 seaPolygons.forEach(poly=>children.push({type:'polygon',shape:{points:pts(poly)},style:{fill:'#d4e6f1',stroke:'#bcc4c8',lineWidth:0.7}}));
 borderLines.forEach(line=>children.push({type:'polyline',shape:{points:pts(line)},style:{fill:'none',stroke:'#d9dbd8',lineWidth:0.7}}));
 const dash={fill:'none',stroke:'rgba(120,130,135,0.17)',lineWidth:0.8,lineDash:[3,2]};
 lonTicks.slice(1,-1).forEach(x=>children.push({type:'polyline',shape:{points:pts([[x,-90],[x,90]])},style:dash}));
 latTicks.slice(1,-1).forEach(y=>children.push({type:'polyline',shape:{points:pts([[-180,y],[180,y]])},style:dash}));
 children.push({type:'polyline',shape:{points:pts([[-180,-90],[-180,90],[180,90],[180,-90],[-180,-90]])},style:{fill:'none',stroke:'#000',lineWidth:1}});
 return {type:'group',children};
}
function histSeries(name,counts,color){return {name,type:'custom',xAxisIndex:4,yAxisIndex:4,silent:true,clip:true,z:name[0]==='U'?2:3,
 data:histBinStarts.map((s,i)=>[s,counts[i]]),encode:{x:0,y:1},
 renderItem:(params,api)=>{const s=api.value(0),c=api.value(1);if(!c)return null;const a=api.coord([s,0]),b=api.coord([s+binWidth,c]);
  return {type:'rect',shape:{x:a[0],y:b[1],width:b[0]-a[0],height:a[1]-b[1]},style:{fill:color,stroke:'rgba(0,0,0,0.7)',lineWidth:1.1}};}};}
const series=[
 {type:'custom',xAxisIndex:0,yAxisIndex:0,silent:true,clip:false,z:2,data:[[0,0]],renderItem:mapRender},
 {name:'Track',type:'line',xAxisIndex:0,yAxisIndex:0,data:flat(trackSegments),silent:true,connectNulls:false,symbol:'circle',symbolSize:4.8,showSymbol:true,showAllSymbol:true,itemStyle:{color:RED},lineStyle:{color:RED,width:4.8,cap:'round',join:'round'},z:5,animation:false},
 {name:'Launch',type:'scatter',xAxisIndex:0,yAxisIndex:0,data:launchPoint,symbol:'circle',symbolSize:16,silent:true,itemStyle:{color:'#27ae60',opacity:1,borderColor:'#000',borderWidth:1.4},z:6},
 {name:'Last fix',type:'scatter',xAxisIndex:0,yAxisIndex:0,data:lastFixPoint,symbol:STAR,symbolSize:21,silent:true,itemStyle:{color:'#2471a3',opacity:1,borderColor:'#000',borderWidth:1.4},z:6},
 {name:'\u00B11\u03C3 propagated error',type:'custom',xAxisIndex:1,yAxisIndex:1,silent:true,clip:true,z:2,data:[[bandDays[0],bandLow[0]]],
  renderItem:(params,api)=>{const pts=[];bandDays.forEach((d,i)=>pts.push(api.coord([d,bandHigh[i]])));for(let i=bandDays.length-1;i>=0;i--)pts.push(api.coord([bandDays[i],bandLow[i]]));
   return {type:'polygon',shape:{points:pts},style:{fill:'rgba(149,165,166,0.45)'}};}},
 {name:'Wind speed',type:'scatter',xAxisIndex:1,yAxisIndex:1,data:windPoints,symbol:'circle',symbolSize:4.2,silent:true,itemStyle:{color:'#2c3e50',opacity:1},z:3},
 {name:'Daily mean',type:'line',xAxisIndex:1,yAxisIndex:1,data:windDailyDays.map((d,i)=>[d,windDailyMean[i]]),symbol:'none',silent:true,lineStyle:{color:RED,width:1.5},z:4},
 {type:'line',xAxisIndex:2,yAxisIndex:2,data:flat(latitudeSegments),connectNulls:false,symbol:'circle',symbolSize:4.6,showSymbol:true,showAllSymbol:true,silent:true,itemStyle:{color:'#000'},lineStyle:{color:'#000',width:4.6,cap:'round',join:'round'},z:3},
 {type:'scatter',xAxisIndex:3,yAxisIndex:3,data:altPoints,symbol:'circle',symbolSize:4.6,silent:true,itemStyle:{color:'#7f8c8d',opacity:1},z:3},
 {type:'line',xAxisIndex:3,yAxisIndex:3,data:windDailyDays.map((d,i)=>[d,altDailyMean[i]]),symbol:'none',silent:true,lineStyle:{color:RED,width:1.5},z:4},
 histSeries('U (zonal)',uCounts,'rgba(31,119,180,0.66)'),
 histSeries('V (meridional)',vCounts,'rgba(255,127,14,0.66)')
];
function legendItem(name,cx,rowY,textX,icon,w,h,style,fs){
 const left=cx-w/2, hh=Math.max(h,14), pad=Math.max(0,textX-(left+w+5));
 return {show:true,data:[{name,icon,itemStyle:style}],left,top:rowY-hh/2,itemWidth:w,itemHeight:h,selectedMode:false,padding:0,z:6,
  textStyle:{fontFamily:FF,fontSize:fs||11,color:'#000',lineHeight:14,padding:[0,0,0,pad]}};
}
const legends=[
 legendItem('Track',104.3,293,124,'circle',5,5,{color:RED}),
 legendItem('Launch',104.3,309,125,'circle',16,16,{color:'#27ae60',opacity:1,borderColor:'#000',borderWidth:1.4}),
 legendItem('Last fix',104.3,324,124.3,STAR,21,21,{color:'#2471a3',opacity:1,borderColor:'#000',borderWidth:1.4}),
 legendItem('\u00B11\u03C3 propagated error',637,436,657.3,'rect',24,9,{color:'rgba(149,165,166,0.45)'}),
 legendItem('Wind speed',637,451.3,657.3,'circle',4,4,{color:'#2c3e50',opacity:1}),
 legendItem('Daily mean',637,467,657.3,'roundRect',24,2,{color:RED}),
 legendItem('U (zonal)',1457.8,824.5,1477.5,'rect',22,8,{color:'rgba(31,119,180,0.66)',borderColor:'rgba(0,0,0,0.7)',borderWidth:1},10.6),
 legendItem('V (meridional)',1457.8,840,1477.5,'rect',22,8,{color:'rgba(255,127,14,0.66)',borderColor:'rgba(0,0,0,0.7)',borderWidth:1},10.6)
];
const frame=(x,y,w,h)=>({type:'rect',z:5,silent:true,shape:{x,y,width:w,height:h,r:3},style:{fill:'rgba(255,255,255,0.8)',stroke:'#cfcfcf',lineWidth:1}});
const chartTitle=(text,cx,cy)=>({text,left:cx,top:cy-9,textAlign:'center',padding:0,textStyle:{fontFamily:FF,fontSize:TITLE,fontWeight:'normal',color:'#000',lineHeight:20}});
const titles=[chartTitle('Flight Track',435.5,17.5),chartTitle('Wind Speed vs. Time',435.5,405.6),chartTitle('Latitude vs. Time',1215,405.6),chartTitle('Balloon Altitude vs. Time',435.5,795),chartTitle('U and V Wind Components',1215,795)]
 .concat(infoLines.map(l=>({text:l[0],left:l[4],top:l[3]-l[1]*0.65,textAlign:'center',padding:0,textStyle:{fontFamily:FF,fontSize:l[1],fontWeight:'normal',color:l[2],lineHeight:l[1]*1.3}})));
const chart=echarts.init(document.getElementById('c'),null,{renderer:'canvas'});
chart.setOption({animation:false,backgroundColor:'#fff',tooltip:{show:false},grid:grids,xAxis:xAxes,yAxis:yAxes,series,title:titles,legend:legends,
 graphic:{elements:[frame(89.5,284,80,50),frame(621.5,427,161.5,49),frame(1443,816,115,33)]}});
</script></body></html>
